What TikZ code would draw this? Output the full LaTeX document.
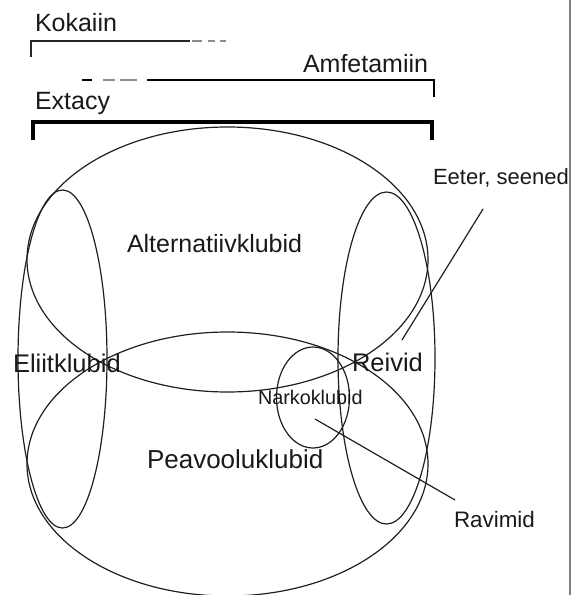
\documentclass[tikz,border=0pt]{standalone}
\usepackage{fontspec}
\setmainfont{Liberation Sans}
\usetikzlibrary{shapes.geometric}
\begin{document}
\begin{tikzpicture}[x=1bp,y=-1bp,
  lbl/.style={anchor=base west,inner sep=0pt,outer sep=0pt,text=black!90,font=\fontsize{#1bp}{#1bp}\selectfont},
  lbl/.default=25,
  oval/.style={draw=black!88,line width=1.2bp,ellipse,inner sep=0pt,outer sep=0pt},
  conn/.style={draw=black!88,line width=1.2bp},
  thinbr/.style={line width=1.6bp,draw=black!85},
  midbr/.style={line width=2.6bp,draw=black},
  thickbr/.style={line width=4bp,draw=black},
  gdash/.style={line width=1.6bp,draw=black!45}]
\useasboundingbox (0,0) rectangle (572,595);
% right border line
\coordinate (vtop) at (570,0);
\coordinate (vbot) at (570,595);
\draw[line width=1.5bp,draw=black!50] (vtop) -- (vbot);

% bracket labels
\node[lbl] (koka) at (35,32) {Kokaiin};
\node[lbl] (amfe) at (303,73) {Amfetamiin};
\node[lbl] (extc) at (35,110) {Extacy};

% Kokaiin bracket
\coordinate (k1) at (31,57);
\coordinate (k2) at (31,41);
\coordinate (k3) at (190,41);
\coordinate (k4) at (228,41);
\draw[thinbr] (k1) -- (k2) -- (k3);
\draw[gdash,dash pattern=on 10bp off 6bp on 7bp off 5bp on 6bp] (k3) ++(2,0) -- (k4);

% Amfetamiin bracket
\coordinate (a0) at (82,80);
\coordinate (a1) at (147,80);
\coordinate (a2) at (434,80);
\coordinate (a3) at (434,97);
\draw[line width=1.8bp,draw=black] (a0) -- ++(10,0);
\draw[line width=1.8bp,draw=black!45] (103,80) -- (115,80) (120,80) -- (137,80);
\draw[midbr] (a1) -- (a2) -- (a3);

% Extacy bracket
\coordinate (e1) at (33,140);
\coordinate (e2) at (33,122);
\coordinate (e3) at (432,122);
\coordinate (e4) at (432,140);
\draw[thickbr] (e1) -- (e2) -- (e3) -- (e4);

% ovals
\node[oval,minimum width=401bp,minimum height=265bp] (alt) at (227.5,259.5) {};
\node[oval,minimum width=401bp,minimum height=264bp] (pea) at (227.5,464) {};
\node[oval,minimum width=89bp,minimum height=338bp] (eli) at (62.5,359) {};
\node[oval,minimum width=97bp,minimum height=332bp] (rei) at (386.5,358) {};
\node[oval,minimum width=73bp,minimum height=101bp] (nar) at (313,397.5) {};

% labels
\node[lbl] (altl) at (127,252) {Alternatiivklubid};
\node[lbl=25.5] (elil) at (13,372) {Eliitklubid};
\node[lbl=25.5] (reil) at (352,371) {Reivid};
\node[lbl=19.8] (narl) at (258,404) {Narkoklubid};
\node[lbl=26] (peal) at (147,468) {Peavooluklubid};
\node[lbl=22] (eete) at (433,184) {Eeter, seened};
\node[lbl=22.4] (ravi) at (454,527) {Ravimid};

% connectors
\coordinate (eeterA) at (483,209);
\coordinate (eeterB) at (402,340);
\draw[conn] (eeterA) -- (eeterB);
\coordinate (raviA) at (455,500);
\coordinate (raviB) at (315,419);
\draw[conn] (raviA) -- (raviB);
\end{tikzpicture}
\end{document}
